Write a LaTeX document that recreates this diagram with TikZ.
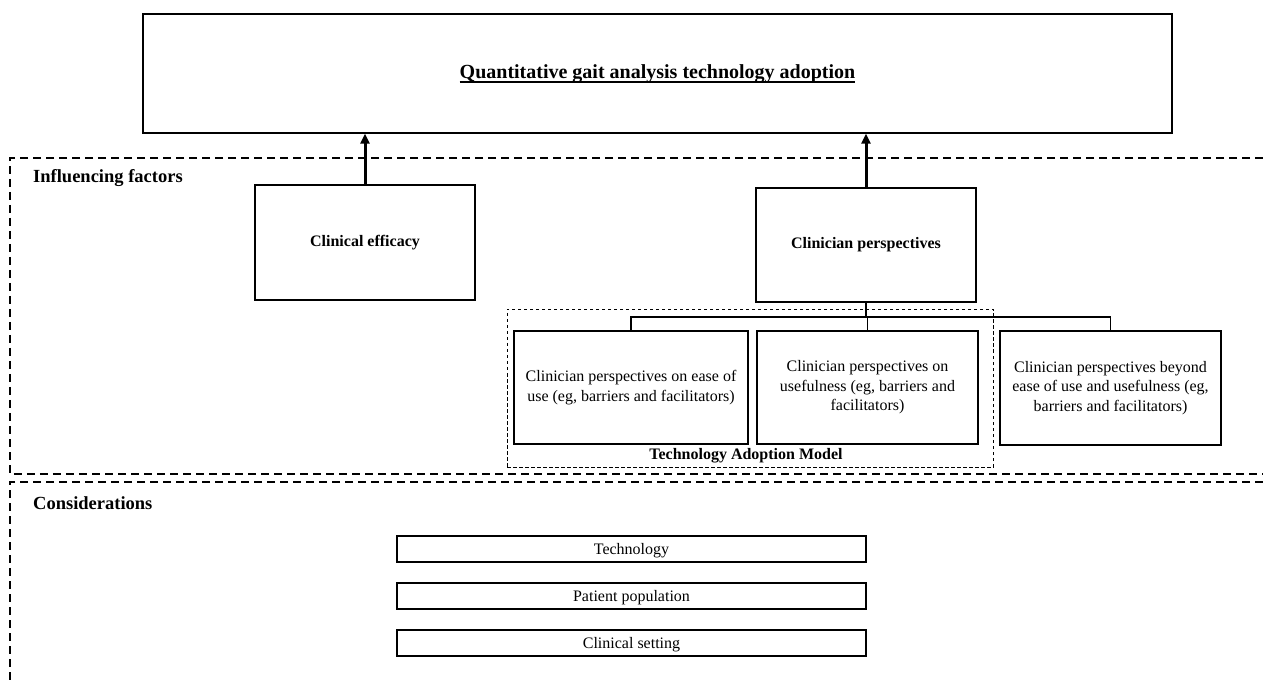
\documentclass[tikz,border=0pt]{standalone}
\usepackage{fontspec}
\setmainfont{Liberation Serif}
\usetikzlibrary{arrows.meta}
\newcommand{\thickul}[1]{\setbox0\hbox{#1}\rlap{\rule[-4.5pt]{\wd0}{1.6pt}}\box0}
\newcommand{\fsbox}{\fontsize{16}{19.5}\selectfont}
\newcommand{\fshead}{\bfseries\fontsize{18.5}{22}\selectfont}
\tikzset{
  box/.style={draw, line width=1.4pt, inner sep=0pt, align=center, font=\fsbox},
  boldbox/.style={box, font=\fsbox\bfseries},
  slimbox/.style={box, minimum width=469pt, minimum height=26pt, text depth=0pt},
  bigframe/.style={draw, line width=1.4pt, dash pattern=on 8pt off 5pt},
  tamframe/.style={draw, line width=0.9pt, dash pattern=on 3.5pt off 2.5pt, inner sep=0pt},
  uparrow/.style={line width=3pt, -{Triangle[length=10pt,width=9pt]}},
  treeline/.style={line width=1.8pt},
  heading/.style={anchor=west, inner sep=0pt, font=\fshead}
}
\begin{document}
\begin{tikzpicture}[x=1pt,y=-1pt]
\useasboundingbox (0,0) rectangle (1263,684);
% section frames
\draw[bigframe] (1263,158) -- (10,158) -- (10,474) -- (1263,474);
\draw[bigframe] (1263,482) -- (10,482) -- (10,684);
\node[heading] (hinf) at (33,178) {Influencing factors};
\node[heading] (hcon) at (33,503) {Considerations};
% top box
\node[box, minimum width=1029pt, minimum height=119pt, font=\bfseries\fontsize{20}{24}\selectfont] (top) at (657.5,73.5)
  {\thickul{Quantitative gait analysis technology adoption}};
% influencing factors
\node[boldbox, minimum width=220pt, minimum height=115pt] (eff) at (365,242.5) {Clinical efficacy};
\node[boldbox, minimum width=220pt, minimum height=114pt] (cp) at (866,245) {Clinician perspectives};
% TAM frame
\node[tamframe, minimum width=486pt, minimum height=158pt] (tam) at (750,388) {};
\node[inner sep=0pt, font=\fsbox\bfseries] (tamlabel) at (746,456) {Technology Adoption Model};
\node[box, minimum width=234pt, minimum height=113pt] (ease) at (631,387.5)
  {Clinician perspectives on ease of\\use (eg, barriers and facilitators)};
\node[box, minimum width=221pt, minimum height=113pt] (useful) at (867.5,387.5)
  {Clinician perspectives on\\usefulness (eg, barriers and\\facilitators)};
\node[box, minimum width=221pt, minimum height=114pt] (beyond) at (1110.5,388)
  {Clinician perspectives beyond\\ease of use and usefulness (eg,\\barriers and facilitators)};
% considerations
\node[slimbox] (tech) at (631.5,549) {Technology};
\node[slimbox] (pat) at (631.5,596) {Patient population};
\node[slimbox] (set) at (631.5,643) {Clinical setting};
% arrows
\draw[uparrow] (eff.north) -- (eff.north |- top.south);
\draw[uparrow] (cp.north) -- (cp.north |- top.south);
% tree
\coordinate (bus) at (0,317);
\draw[treeline] (cp.south) -- (cp.south |- bus);
\draw[treeline] (ease.north) |- (bus -| beyond.north) -- (beyond.north);
\draw[treeline] (useful.north) -- (useful.north |- bus);
\end{tikzpicture}
\end{document}
